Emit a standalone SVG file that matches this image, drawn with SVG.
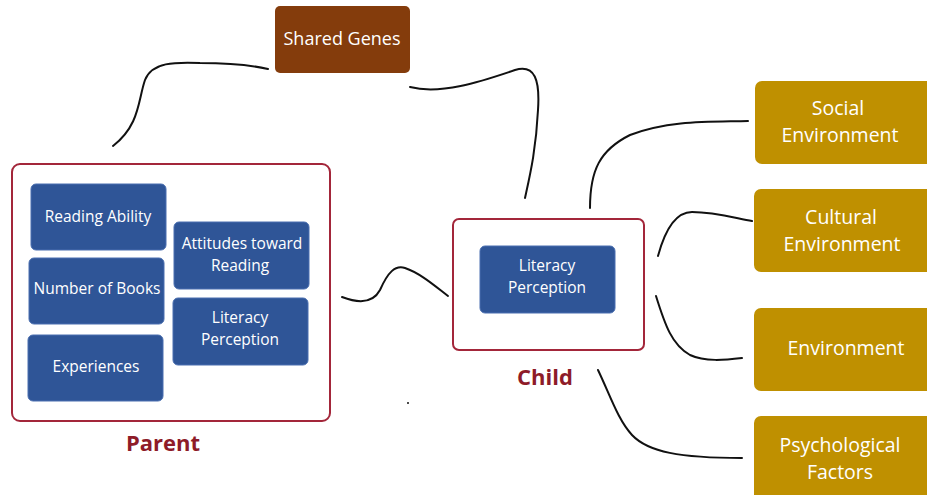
<svg xmlns="http://www.w3.org/2000/svg" width="927" height="495" viewBox="0 0 927 495">
<style>
.frame{fill:#fff;stroke:#a3263a;stroke-width:2}
.blue{fill:#2f5597;stroke:#4a6fb0;stroke-width:1}
.gold{fill:#bf9000}
.brown{fill:#843c0c}
.t{font-family:"Open Sans","Liberation Sans",sans-serif;fill:#fff;text-anchor:middle;dominant-baseline:central}
.s{font-size:15.5px}
.m{font-size:18px}
.l{font-size:19.5px}
.lab{font-family:"Open Sans","Liberation Sans",sans-serif;font-weight:bold;font-size:22px;fill:#8e1b28;text-anchor:middle}
.c{fill:none;stroke:#111;stroke-width:2;stroke-linecap:round}
</style>
<rect width="927" height="495" fill="#fff"/>
<g id="connectors">
<path class="c" d="M113,146 C140,125 138,100 145,80 C152,62 175,62 200,63 C230,63 255,66 268,69"/>
<path class="c" d="M410,87 C440,95 480,82 515,70 C535,64 540,80 538,110 C536,150 530,175 525,198"/>
<path class="c" d="M342,297 C355,302 372,305 380,290 C388,272 395,265 405,268 C420,273 435,286 448,296"/>
<path class="c" d="M590,208 C590,170 600,150 630,135 C670,120 710,122 748,121"/>
<path class="c" d="M658,256 C665,230 675,212 692,212 C715,212 735,218 752,221"/>
<path class="c" d="M656,296 C665,325 672,345 690,355 C705,362 725,360 742,358"/>
<path class="c" d="M598,370 C610,395 618,420 632,435 C648,452 680,458 742,458"/>
<circle cx="408" cy="403" r="1" fill="#111"/>
</g>
<g id="parent">
<rect class="frame" x="12" y="164" width="318" height="257" rx="8"/>
<text class="lab" x="163" y="451">Parent</text>
</g>
<g id="reading-ability">
<rect class="blue" x="31" y="184" width="135" height="66" rx="5"/>
<text class="t s" x="98" y="216">Reading Ability</text>
</g>
<g id="number-of-books">
<rect class="blue" x="29" y="258" width="135" height="66" rx="5"/>
<text class="t s" x="97" y="288">Number of Books</text>
</g>
<g id="experiences">
<rect class="blue" x="28" y="335" width="135" height="66" rx="5"/>
<text class="t s" x="96" y="366">Experiences</text>
</g>
<g id="attitudes">
<rect class="blue" x="174" y="222" width="135" height="67" rx="5"/>
<text class="t s" x="242" y="243">Attitudes toward</text>
<text class="t s" x="240" y="265">Reading</text>
</g>
<g id="parent-literacy">
<rect class="blue" x="173" y="298" width="135" height="67" rx="5"/>
<text class="t s" x="240" y="317">Literacy</text>
<text class="t s" x="240" y="339">Perception</text>
</g>
<g id="shared-genes">
<rect class="brown" x="275" y="6" width="135" height="67" rx="5"/>
<text class="t m" x="342" y="38">Shared Genes</text>
</g>
<g id="child">
<rect class="frame" x="453" y="219" width="191" height="131" rx="6"/>
<text class="lab" x="545" y="385">Child</text>
</g>
<g id="child-literacy">
<rect class="blue" x="480" y="246" width="135" height="67" rx="5"/>
<text class="t s" x="547" y="265">Literacy</text>
<text class="t s" x="547" y="287">Perception</text>
</g>
<g id="social">
<rect class="gold" x="755" y="81" width="190" height="83" rx="7"/>
<text class="t l" x="838" y="107">Social</text>
<text class="t l" x="840" y="134">Environment</text>
</g>
<g id="cultural">
<rect class="gold" x="754" y="189" width="190" height="83" rx="7"/>
<text class="t l" x="841" y="216">Cultural</text>
<text class="t l" x="842" y="243">Environment</text>
</g>
<g id="environment">
<rect class="gold" x="754" y="308" width="190" height="83" rx="7"/>
<text class="t l" x="846" y="347">Environment</text>
</g>
<g id="psychological">
<rect class="gold" x="754" y="416" width="190" height="90" rx="7"/>
<text class="t l" x="840" y="444">Psychological</text>
<text class="t l" x="840" y="471">Factors</text>
</g>
</svg>
